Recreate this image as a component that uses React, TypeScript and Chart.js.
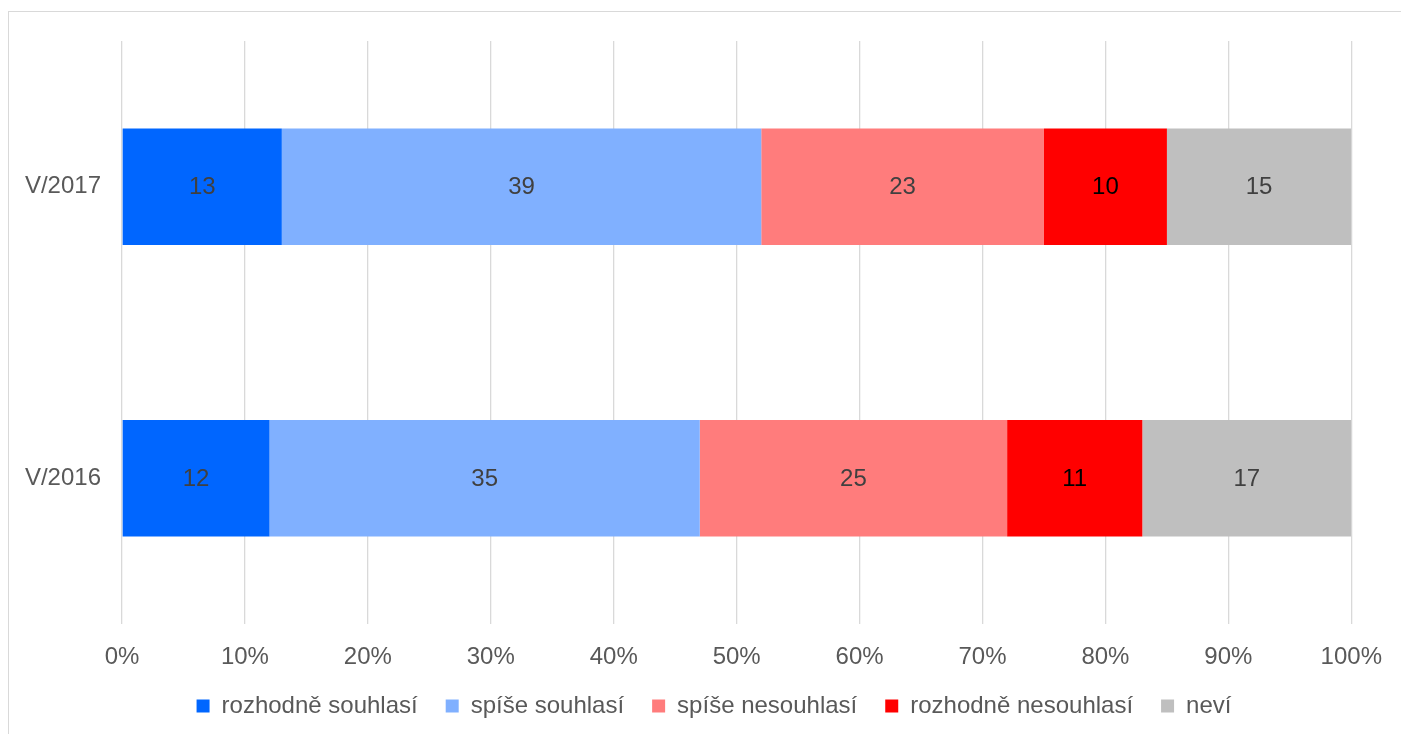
import React, { useEffect, useRef } from "react";
import { Chart, registerables } from "chart.js";

Chart.register(...registerables);

const categories = ["V/2017", "V/2016"];
const seriesNames = ["rozhodně souhlasí", "spíše souhlasí", "spíše nesouhlasí", "rozhodně nesouhlasí", "neví"];
const rozhodneSouhlasi = [13, 12];
const spiseSouhlasi = [39, 35];
const spiseNesouhlasi = [23, 25];
const rozhodneNesouhlasi = [10, 11];
const nevi = [15, 17];
const xTicks = [0, 10, 20, 30, 40, 50, 60, 70, 80, 90, 100];

const seriesValues = [rozhodneSouhlasi, spiseSouhlasi, spiseNesouhlasi, rozhodneNesouhlasi, nevi];
const seriesColors = ["#0066FF", "#80B0FF", "#FF7C7C", "#FF0000", "#BFBFBF"];
const labelColors = ["#404040", "#404040", "#404040", "#000000", "#404040"];

const FONT = "'Liberation Sans', Arial, Helvetica, sans-serif";

const labelPlugin = {
  id: "barLabels",
  afterDatasetsDraw(chart: any) {
    const ctx = chart.ctx;
    ctx.save();
    ctx.font = `24px ${FONT}`;
    ctx.textAlign = "center";
    ctx.textBaseline = "middle";
    chart.data.datasets.forEach((ds: any, i: number) => {
      const meta = chart.getDatasetMeta(i);
      ctx.fillStyle = labelColors[i];
      meta.data.forEach((el: any, j: number) => {
        const p = el.getProps(["x", "y", "base"], true);
        ctx.fillText(String(ds.data[j]), (p.x + p.base) / 2, p.y + 1);
      });
    });
    ctx.restore();
  },
};

const legendShift = {
  id: "legendShift",
  afterLayout(chart: any) {
    const lg = chart.legend;
    if (lg) {
      lg.left += 21;
      lg.right += 21;
    }
  },
};

export default function App() {
  const ref = useRef<HTMLCanvasElement | null>(null);
  useEffect(() => {
    if (!ref.current) return;
    const chart = new Chart(ref.current, {
      type: "bar",
      data: {
        labels: categories,
        datasets: seriesNames.map((name, i) => ({
          label: name,
          data: seriesValues[i],
          backgroundColor: seriesColors[i],
          borderWidth: 0,
          categoryPercentage: 0.4,
          barPercentage: 1,
        })),
      },
      options: {
        indexAxis: "y",
        animation: false,
        responsive: true,
        maintainAspectRatio: false,
        layout: { padding: { left: 0, right: 24, top: 29, bottom: 6 } },
        scales: {
          x: {
            stacked: true,
            min: 0,
            max: 100,
            afterBuildTicks: (axis: any) => {
              axis.ticks = xTicks.map((v) => ({ value: v }));
            },
            afterFit: (scale: any) => {
              scale.height = 42;
            },
            ticks: {
              callback: (v: any) => `${v}%`,
              color: "#595959",
              font: { family: FONT, size: 24 },
              padding: 19,
              maxRotation: 0,
            },
            grid: { color: "#D9D9D9", lineWidth: 1.3, drawTicks: false },
            border: { display: false },
          },
          y: {
            stacked: true,
            afterFit: (scale: any) => {
              scale.width = 113;
              scale.paddingTop = 0;
              scale.paddingBottom = 0;
            },
            ticks: {
              color: "#595959",
              font: { family: FONT, size: 24 },
              padding: 21,
            },
            grid: { display: false, drawTicks: false },
            border: { display: false },
          },
        },
        plugins: {
          legend: {
            position: "bottom",
            labels: {
              boxWidth: 13,
              boxHeight: 13,
              color: "#595959",
              font: { family: FONT, size: 24 },
              padding: 28,
            },
          },
          tooltip: { enabled: false },
        },
      },
      plugins: [labelPlugin, legendShift],
    });
    return () => chart.destroy();
  }, []);

  return (
    <div style={{ position: "fixed", left: 0, top: 0, width: 1401, height: 734, overflow: "hidden", background: "#fff" }}>
      <div
        style={{
          position: "absolute",
          left: 8,
          top: 11,
          width: 1420,
          height: 760,
          border: "1px solid #D9D9D9",
        }}
      >
        <div style={{ position: "relative", width: 1392, height: 722 }}>
          <canvas ref={ref} />
        </div>
      </div>
    </div>
  );
}
